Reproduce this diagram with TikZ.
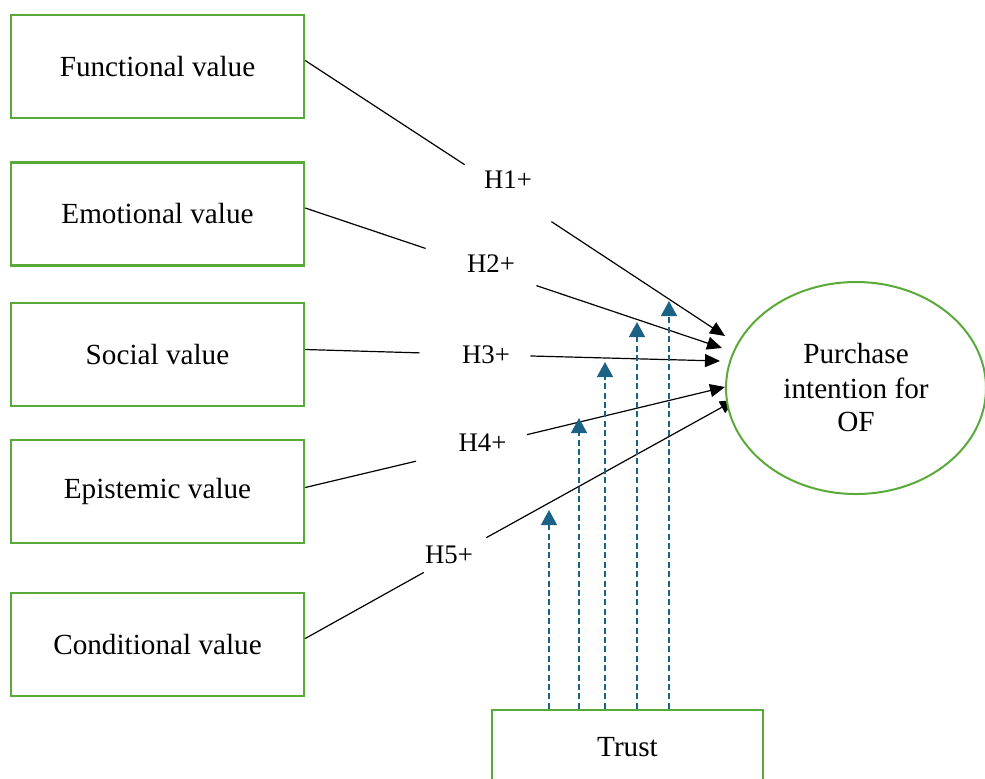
\documentclass[tikz,border=0pt]{standalone}
\usepackage{fontspec}
\setmainfont{Liberation Serif}
\usetikzlibrary{arrows.meta, positioning, shapes.geometric}

\definecolor{boxgreen}{RGB}{90,170,58}
\definecolor{trustblue}{RGB}{26,99,135}

\tikzset{
  valuebox/.style={draw=boxgreen, line width=1.2pt, minimum width=146.5pt, minimum height=51.5pt, inner sep=0pt, font=\fontsize{14.6}{17}\selectfont},
  hyplabel/.style={inner sep=0pt, minimum width=55pt, minimum height=17pt, font=\fontsize{13.4}{16}\selectfont},
  hypline/.style={line width=0.6pt},
  hyp/.style={line width=0.6pt, -{Triangle[length=7.5pt, width=6.5pt]}},
  moder/.style={draw=trustblue, line width=0.75pt, dash pattern=on 3pt off 1.7pt, -{Triangle[length=7.5pt, width=8pt]}},
}

\begin{document}
\begin{tikzpicture}[x=0.5pt, y=-0.5pt]
\useasboundingbox (0,0) rectangle (985,778);

% Valores percibidos
\node[valuebox] (func) at (157.5,66.5) {Functional value};
\node[valuebox] (emot) at (157.5,214) {Emotional value};
\node[valuebox] (soc) at (157.5,354.5) {Social value};
\node[valuebox] (epis) at (157.5,491.5) {Epistemic value};
\node[valuebox] (cond) at (157.5,644.5) {Conditional value};

% Moderador
\node[valuebox, minimum width=135.5pt, minimum height=37pt] (trust) at (627.5,747) {Trust};

% Etiquetas de hipotesis
\node[hyplabel, minimum width=43pt, minimum height=29pt, text depth=13pt] (h1) at (508,193) {H1+};
\node[hyplabel, minimum height=19pt, text depth=3pt] (h2) at (481,267) {\hspace*{10pt}H2+};
\node[hyplabel] (h3) at (475,354.5) {\hspace*{11pt}H3+};
\node[hyplabel, text depth=5pt] (h4) at (471.5,448) {\hspace*{11pt}H4+};
\node[hyplabel] (h5) at (455,555) {H5+\hspace*{6pt}};

% Puntas de flecha
\coordinate (t1) at (725,336);
\coordinate (t2) at (722,348);
\coordinate (t3) at (720,361);
\coordinate (t4) at (725,387);
\coordinate (t5) at (735,400);

% Hipotesis directas
\draw[hypline] ([yshift=3pt]func.east) -- (h1);
\draw[hyp] (h1) -- (t1);
\draw[hypline] ([yshift=3pt]emot.east) -- (h2);
\draw[hyp] (h2) -- (t2);
\draw[hypline] ([yshift=2.5pt]soc.east) -- (h3);
\draw[hyp] (h3) -- (t3);
\draw[hypline] ([yshift=2pt]epis.east) -- (h4);
\draw[hyp] (h4) -- (t4);
\draw[hypline] ([yshift=3pt]cond.east) -- (h5);
\draw[hyp] (h5) -- (t5);

% Efectos moderadores
\coordinate (m1) at (549,510);
\coordinate (m2) at (579,418);
\coordinate (m3) at (605,362);
\coordinate (m4) at (637,322);
\coordinate (m5) at (669,301);
\draw[moder] (m1 |- trust.north) -- (m1);
\draw[moder] (m2 |- trust.north) -- (m2);
\draw[moder] (m3 |- trust.north) -- (m3);
\draw[moder] (m4 |- trust.north) -- (m4);
\draw[moder] (m5 |- trust.north) -- (m5);

% Variable dependiente
\node[ellipse, draw=boxgreen, line width=1pt, fill=white, minimum width=130pt, minimum height=106pt, inner sep=0pt, align=center, font=\fontsize{14.6}{17}\selectfont] (intent) at (856,388) {Purchase\\intention for\\OF};

\end{tikzpicture}
\end{document}
